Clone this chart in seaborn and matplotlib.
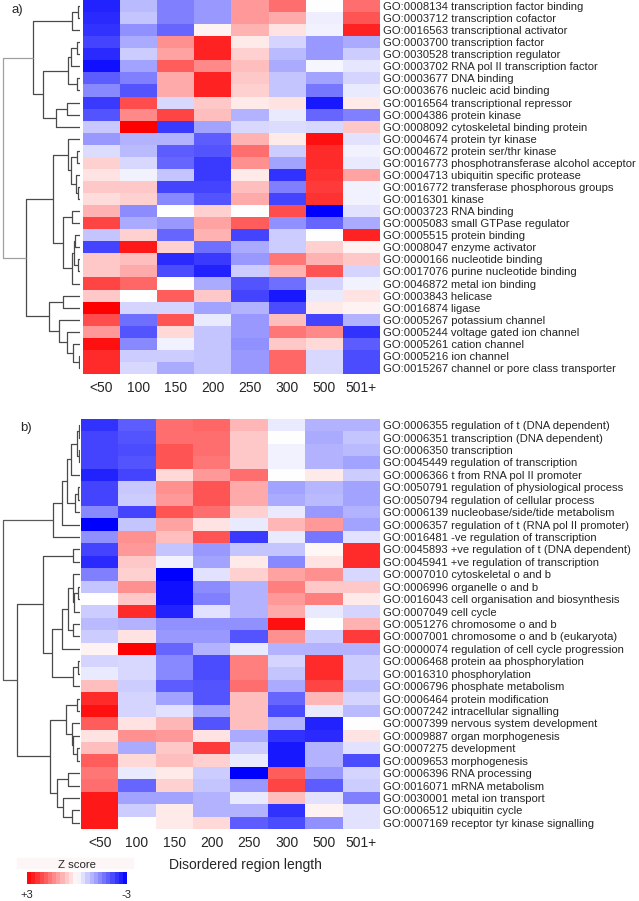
import numpy as np
import pandas as pd
import matplotlib
matplotlib.use('Agg')
import matplotlib.pyplot as plt
import seaborn as sns
from matplotlib.patches import Rectangle

sns.set_style('white')
plt.rcParams['font.family'] = ['Liberation Sans', 'DejaVu Sans']

lengths = ['<50', '100', '150', '200', '250', '300', '500', '501+']

terms_a = [
    'GO:0008134 transcription factor binding', 'GO:0003712 transcription cofactor',
    'GO:0016563 transcriptional activator', 'GO:0003700 transcription factor',
    'GO:0030528 transcription regulator', 'GO:0003702 RNA pol II transcription factor',
    'GO:0003677 DNA binding', 'GO:0003676 nucleic acid binding',
    'GO:0016564 transcriptional repressor', 'GO:0004386 protein kinase',
    'GO:0008092 cytoskeletal binding protein', 'GO:0004674 protein tyr kinase',
    'GO:0004672 protein ser/thr kinase', 'GO:0016773 phosphotransferase alcohol acceptor',
    'GO:0004713 ubiquitin specific protease', 'GO:0016772 transferase phosphorous groups',
    'GO:0016301 kinase', 'GO:0003723 RNA binding', 'GO:0005083 small GTPase regulator',
    'GO:0005515 protein binding', 'GO:0008047 enzyme activator',
    'GO:0000166 nucleotide binding', 'GO:0017076 purine nucleotide binding',
    'GO:0046872 metal ion binding', 'GO:0003843 helicase', 'GO:0016874 ligase',
    'GO:0005267 potassium channel', 'GO:0005244 voltage gated ion channel',
    'GO:0005261 cation channel', 'GO:0005216 ion channel',
    'GO:0015267 channel or pore class transporter',
]

z_a = [
    [-2.6, -0.8, -1.5, -1.2, 1.2, 1.7, 0.0, 1.7],
    [-2.5, -0.7, -1.5, -1.2, 1.2, 1.0, -0.2, 2.0],
    [-2.4, -1.3, -1.8, 0.15, 0.9, 0.35, -0.15, 2.6],
    [-2.2, -1.0, 1.3, 2.6, 0.25, -0.5, -1.2, -1.0],
    [-2.5, -0.6, 1.1, 2.6, 0.55, -0.8, -1.2, -0.6],
    [-2.8, -1.1, 1.9, 1.4, 0.75, -1.0, -0.1, -0.3],
    [-1.9, -1.5, 1.0, 2.6, 0.65, -0.7, -1.1, -0.5],
    [-1.4, -2.0, 1.0, 2.6, 0.55, -0.7, -1.6, -0.25],
    [-2.3, 2.1, -0.45, 0.65, 0.25, 0.35, -2.7, 0.25],
    [-2.0, 1.4, 2.2, 0.75, -0.9, -0.25, -1.8, -1.5],
    [-0.65, 3.0, -2.3, -1.1, -0.45, -0.4, -0.45, 0.65],
    [-1.2, -0.9, -0.9, -1.9, 0.9, 0.25, 2.8, -0.35],
    [-0.4, -0.8, -1.9, -2.0, 1.7, -0.6, 2.5, -0.15],
    [0.55, -0.45, -1.8, -2.3, 1.3, -1.1, 2.5, -0.25],
    [0.35, -0.15, -0.7, -2.3, 0.25, -2.4, 2.4, 1.1],
    [0.65, 0.65, -2.2, -2.2, 0.75, -1.5, 2.3, -0.15],
    [0.4, 0.55, -1.4, -2.0, 1.0, -2.2, 2.4, -0.15],
    [0.9, -1.35, 0.0, 0.55, 0.0, 2.1, -3.0, -0.35],
    [2.2, -1.0, -1.2, 1.1, 1.9, -1.3, -1.8, -1.0],
    [-0.7, 0.55, -1.8, 0.9, -2.2, -0.6, 0.0, 2.6],
    [-2.2, 2.7, 0.55, -1.7, -1.0, -0.6, 0.55, 0.15],
    [0.65, 0.75, -2.5, -2.3, -1.2, 1.6, 0.9, 0.65],
    [0.65, 1.0, -2.1, -2.6, -0.6, 0.9, 2.0, -0.5],
    [2.2, 1.8, 0.0, -1.0, -2.0, -1.7, -0.5, -0.15],
    [0.65, 0.0, 1.9, 0.65, -2.2, -2.7, -0.25, 0.35],
    [3.0, -0.5, -0.5, -1.1, -0.9, -2.1, 0.25, 0.15],
    [2.1, -1.7, 2.0, -0.25, -1.2, 0.75, -2.2, -0.9],
    [1.2, -2.0, 0.45, -0.7, -1.2, 1.6, 1.4, -2.4],
    [2.8, -1.4, -0.15, -0.7, -1.3, 0.65, 0.45, -1.9],
    [2.5, -0.6, -0.6, -0.7, -1.2, 1.8, -0.45, -2.1],
    [2.5, -0.45, -1.0, -0.7, -1.2, 1.8, -0.45, -2.1],
]

terms_b = [
    'GO:0006355 regulation of t (DNA dependent)', 'GO:0006351 transcription (DNA dependent)',
    'GO:0006350 transcription', 'GO:0045449 regulation of transcription',
    'GO:0006366 t from RNA pol II promoter', 'GO:0050791 regulation of physiological process',
    'GO:0050794 regulation of cellular process', 'GO:0006139 nucleobase/side/tide metabolism',
    'GO:0006357 regulation of t (RNA pol II promoter)', 'GO:0016481 -ve regulation of transcription',
    'GO:0045893 +ve regulation of t (DNA dependent)', 'GO:0045941 +ve regulation of transcription',
    'GO:0007010 cytoskeletal o and b', 'GO:0006996 organelle o and b',
    'GO:0016043 cell organisation and biosynthesis', 'GO:0007049 cell cycle',
    'GO:0051276 chromosome o and b', 'GO:0007001 chromosome o and b (eukaryota)',
    'GO:0000074 regulation of cell cycle progression', 'GO:0006468 protein aa phosphorylation',
    'GO:0016310 phosphorylation', 'GO:0006796 phosphate metabolism',
    'GO:0006464 protein modification', 'GO:0007242 intracellular signalling',
    'GO:0007399 nervous system development', 'GO:0009887 organ morphogenesis',
    'GO:0007275 development', 'GO:0009653 morphogenesis', 'GO:0006396 RNA processing',
    'GO:0016071 mRNA metabolism', 'GO:0030001 metal ion transport',
    'GO:0006512 ubiquitin cycle', 'GO:0007169 receptor tyr kinase signalling',
]

z_b = [
    [-2.4, -1.9, 1.7, 1.8, 0.85, -0.25, -0.9, -0.9],
    [-2.2, -2.0, 1.7, 1.7, 0.65, 0.0, -1.0, -0.7],
    [-2.2, -2.1, 2.0, 1.7, 0.65, -0.15, -0.9, -0.8],
    [-2.2, -2.0, 2.0, 1.6, 0.65, -0.15, -0.9, -1.1],
    [-2.6, -2.2, 0.45, 1.2, 1.7, 0.0, 0.25, -0.6],
    [-2.2, -0.65, 1.3, 2.0, 1.0, -1.1, -0.85, -1.1],
    [-2.2, -0.6, 1.2, 2.0, 1.0, -1.0, -0.8, -1.1],
    [-1.4, -2.2, 2.0, 1.7, 0.55, -0.25, -1.2, -0.9],
    [-3.0, -0.7, 1.1, 0.35, -0.25, 0.85, 1.2, -1.1],
    [-1.3, 1.3, 0.75, 2.0, -2.3, -0.25, -1.6, -0.35],
    [-2.2, 1.2, -0.7, -1.2, -0.7, -0.7, 0.1, 2.5],
    [-2.5, 0.65, -0.15, -1.1, 0.25, -1.4, 0.35, 2.5],
    [-1.5, 0.55, -3.0, -0.35, 0.55, 1.1, 1.3, -0.45],
    [-0.7, 1.3, -2.8, -1.35, -0.9, 1.5, 0.65, 0.65],
    [0.0, 0.65, -2.8, -1.5, -0.9, 1.2, 1.5, 0.25],
    [-0.6, 2.5, -2.6, -0.35, -0.9, 1.0, -0.25, -0.5],
    [-0.8, -0.9, -1.3, -1.3, -1.3, 2.8, 0.0, 0.9],
    [-0.6, 0.35, -1.2, -1.2, -2.0, 1.3, -0.6, 2.3],
    [0.15, 3.0, -1.8, -0.9, -0.25, -0.9, -0.9, -0.9],
    [-0.5, -0.45, -1.4, -2.1, 1.5, -0.5, 2.5, -0.6],
    [-0.25, -0.45, -1.4, -2.1, 1.5, -0.7, 2.5, -0.6],
    [0.75, -0.6, -1.9, -2.0, 1.7, -1.0, 2.2, -0.8],
    [2.5, -0.5, -1.1, -2.0, 0.75, -1.8, 0.85, -0.5],
    [2.8, -0.5, -0.35, -1.1, 0.75, -2.1, -0.25, -0.8],
    [1.9, 0.35, 0.85, -2.0, 0.75, -0.9, -2.6, 0.0],
    [0.35, 1.3, 1.2, 0.35, -1.0, -2.4, -2.5, 0.35],
    [0.75, -1.0, 0.65, 2.3, -0.6, -2.7, -0.9, -0.35],
    [1.9, 0.45, 0.75, 0.55, -0.25, -2.7, -0.9, -2.1],
    [1.6, -0.25, 0.25, -0.6, -3.0, 1.9, -1.2, -0.5],
    [1.7, -1.8, 0.55, -0.7, -1.2, 2.2, -1.9, -0.6],
    [2.7, -1.1, -1.1, -0.9, -0.25, 0.75, -0.35, -1.5],
    [2.7, -0.6, 0.25, -0.9, -0.9, -2.4, 0.15, -0.35],
    [2.7, 0.0, 0.25, 0.45, -1.9, -2.1, -1.3, -0.35],
]

# row dendrograms: (merge height, left, right), leaves are row numbers
tree_a = (77,
          (47, (8, (2, 0, 1), 2),
               (37, (12, (9, (3, 3, 4), 5), (3, 6, 7)), (24, (13, 8, 9), 10))),
          (54, (27, (12, 11, (9, (3, 12, 13), (4, 14, (2, 15, 16)))),
                    (17, (8, 17, 18), (8, (6.5, (5, 19, 20), (2, 21, 22)), 23))),
               (31, (17, 24, 25), (21, 26, (13, 27, (7, 28, (1, 29, 30)))))))

tree_b = (77,
          (26.7, (18.3, (13.3, (9, (3, (1, 0, 1), (1, 2, 3)), 4), (5, (2, 5, 6), 7)), 8), 9),
          (63, (37.3, (7.3, 10, 11),
                      (28.3, (18, (12, (7, 12, (6, (2, 13, 14), 15)), (6.7, 16, 17)), 18),
                             (7, (2, 19, 20), 21))),
               (30, (14, (3.3, 22, 23), (8.3, 24, (7, 25, (3, 26, 27)))),
                    (22.7, (12, 28, 29), (16.7, 30, (8.3, 31, 32))))))


def draw_tree(ax, node, root_color, depth=0):
    if isinstance(node, int):
        return node + 0.5, 0.0
    h, left, right = node
    y1, h1 = draw_tree(ax, left, root_color, depth + 1)
    y2, h2 = draw_tree(ax, right, root_color, depth + 1)
    c = root_color if depth == 0 else '#4a4a4a'
    ax.plot([h1, h, h, h2], [y1, y1, y2, y2], color=c, lw=0.9, solid_capstyle='butt')
    return (y1 + y2) / 2, h


W, H = 639, 901
fig = plt.figure(figsize=(W / 100, H / 100), dpi=100)


def rect(x0, y0, x1, y1):
    return [x0 / W, 1 - y1 / H, (x1 - x0) / W, (y1 - y0) / H]


def panel(hrect, drect, terms, z, tree, root_color):
    ax = fig.add_axes(rect(*hrect))
    df = pd.DataFrame(z, index=terms, columns=lengths)
    sns.heatmap(df, ax=ax, cmap='bwr', vmin=-3, vmax=3, cbar=False,
                xticklabels=lengths, yticklabels=terms)
    ax.yaxis.tick_right()
    ax.tick_params(axis='y', length=0, labelsize=8.1, pad=2, labelrotation=0)
    ax.tick_params(axis='x', length=0, labelsize=10, pad=5, labelrotation=0)
    for t in ax.get_yticklabels():
        t.set_horizontalalignment('left')
    ax.set_xlabel('')
    ax.set_ylabel('')

    axd = fig.add_axes(rect(*drect))
    draw_tree(axd, tree, root_color)
    axd.set_xlim(80, 0)
    axd.set_ylim(len(terms), 0)
    axd.axis('off')
    return ax


ax_a = panel((83, 0, 380, 374), (0, 0, 80, 374), terms_a, z_a, tree_a, '#a0a0a0')
ax_b = panel((81, 419, 380, 829), (0, 419, 80, 829), terms_b, z_b, tree_b, '#5a5a5a')

fig.text(11 / W, 1 - 10 / H, 'a)', fontsize=9.5, ha='left', va='center')
fig.text(20 / W, 1 - 428 / H, 'b)', fontsize=9.5, ha='left', va='center')
fig.text(245 / W, 1 - 865 / H, 'Disordered region length', fontsize=10, ha='center', va='center')

# faint band behind the legend title
fig.patches.append(Rectangle((17 / W, 1 - 868 / H), 116 / W, 10 / H,
                             transform=fig.transFigure, color='#fdf6f6', zorder=-1))

cax = fig.add_axes(rect(27, 872, 127, 884))
cbar = fig.colorbar(ax_b.collections[0], cax=cax, orientation='horizontal',
                    boundaries=np.linspace(-3, 3, 25), ticks=[3, -3])
cax.invert_xaxis()
cbar.set_ticklabels(['+3', '-3'])
cbar.outline.set_visible(False)
cax.tick_params(length=0, labelsize=8, pad=4)
cax.set_title('Z score', fontsize=8.2, pad=3)

fig.savefig('out.png', dpi=100)
